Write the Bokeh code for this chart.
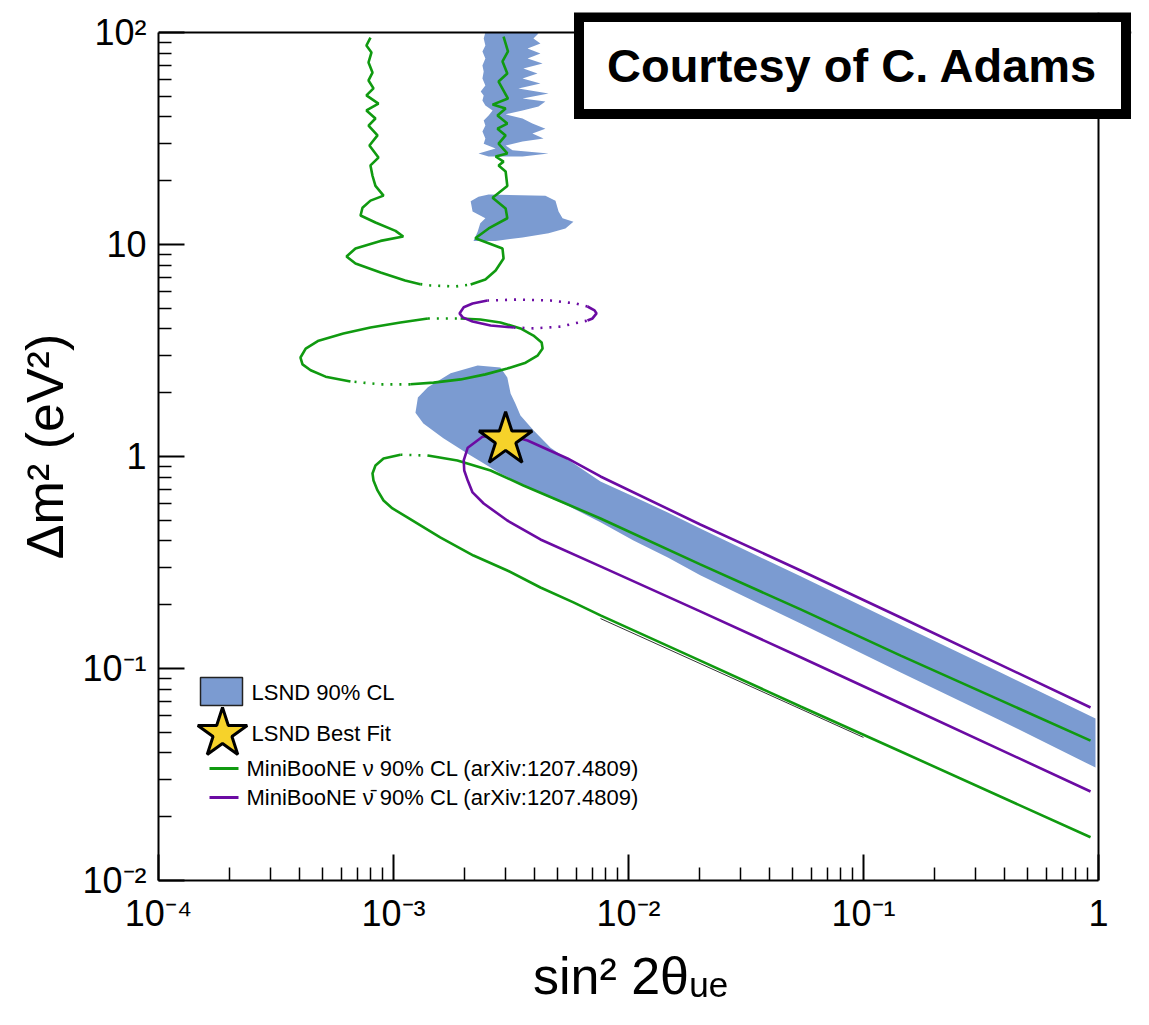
import math
from bokeh.plotting import figure
from bokeh.models import Range1d, FixedTicker, Label, BoxAnnotation, PolyAnnotation, Span
from bokeh.embed import file_html
from bokeh.resources import INLINE

FONT = "Liberation Sans"
BLUE = "#7b9bd1"
GREEN = "#109a10"
PURPLE = "#6b0ba3"
GOLD = "#f6d22a"

# ---------------- axis ticks ----------------
x_tick_values = [1e-4, 1e-3, 1e-2, 1e-1, 1.0]
x_tick_labels = ["10⁻⁴", "10⁻³", "10⁻²", "10⁻¹", "1"]
y_tick_values = [1e-2, 1e-1, 1.0, 10.0, 100.0]
y_tick_labels = ["10⁻²", "10⁻¹", "1", "10", "10²"]
x_title = "sin² 2θᵤₑ\u00a0\u00a0"
y_title = "Δm² (eV²)"

# ---------------- LSND 90% CL regions ----------------
lsnd_top_x = [2.46e-3, 2.42e-3, 2.46e-3, 2.39e-3, 2.46e-3, 2.39e-3, 2.42e-3, 2.39e-3, 2.46e-3, 2.35e-3,
              2.42e-3, 2.39e-3, 2.46e-3, 2.64e-3, 2.54e-3, 2.42e-3, 2.46e-3, 2.39e-3, 2.46e-3, 2.42e-3,
              2.72e-3, 2.30e-3, 2.54e-3,
              3.54e-3, 4.57e-3, 3.21e-3, 3.00e-3, 3.54e-3, 4.35e-3, 3.90e-3, 4.43e-3, 3.90e-3, 3.54e-3,
              3.00e-3, 3.54e-3, 4.14e-3, 4.43e-3, 3.54e-3, 4.57e-3, 3.40e-3, 4.22e-3, 3.54e-3, 4.10e-3,
              3.57e-3, 4.31e-3, 3.72e-3, 4.22e-3, 3.72e-3, 4.22e-3, 3.94e-3, 4.14e-3, 4.02e-3]
lsnd_top_y = [100.0, 93.7, 86.8, 81.4, 75.4, 69.9, 65.5, 60.7, 56.2, 52.7,
              50.5, 47.8, 45.3, 42.9, 40.6, 38.5, 36.4, 34.1, 31.6, 29.9,
              28.4, 26.9, 26.0,
              26.0, 26.9, 27.8, 29.3, 30.6, 31.6, 33.4, 35.2, 37.2, 39.3,
              41.1, 42.9, 44.8, 47.3, 48.8, 51.6, 54.5, 57.5, 60.7, 64.1,
              67.6, 71.4, 75.4, 79.6, 84.1, 88.7, 93.7, 98.9, 100.0]

lsnd_mid_x = [2.54e-3, 4.43e-3, 4.89e-3, 5.04e-3, 5.24e-3, 5.83e-3, 5.39e-3, 4.57e-3, 3.54e-3,
              2.72e-3, 2.19e-3, 2.28e-3, 2.34e-3, 2.46e-3, 2.17e-3, 2.13e-3, 2.30e-3]
lsnd_mid_y = [17.2, 17.0, 16.1, 14.3, 13.3, 12.8, 11.9, 11.3, 10.8,
              10.4, 10.4, 11.5, 12.6, 13.3, 14.3, 16.0, 16.8]

lsnd_band_x = [2.28e-3, 2.85e-3, 3.05e-3, 3.15e-3, 3.30e-3, 3.47e-3, 3.94e-3, 4.66e-3, 5.50e-3,
               7.60e-3, 1.05e-2, 1.47e-2, 2.02e-2, 5.40e-2, 0.144, 0.383, 0.971,
               0.971, 0.383, 0.144, 5.40e-2, 2.02e-2, 1.47e-2, 1.05e-2, 7.60e-3, 5.50e-3,
               3.94e-3, 2.85e-3, 2.07e-3, 1.63e-3, 1.34e-3, 1.24e-3, 1.27e-3, 1.40e-3, 1.75e-3]
lsnd_band_y = [2.69, 2.63, 2.36, 1.98, 1.78, 1.56, 1.33, 1.10, 0.97,
               0.762, 0.648, 0.544, 0.457, 0.272, 0.161, 0.0958, 0.0581,
               0.0341, 0.0569, 0.0958, 0.163, 0.275, 0.334, 0.402, 0.489, 0.587,
               0.692, 0.832, 1.03, 1.22, 1.43, 1.61, 1.90, 2.12, 2.47]

best_fit_x = [3.0e-3]
best_fit_y = [1.2]

# ---------------- MiniBooNE neutrino 90% CL (green) ----------------
nu_top_a_x = [7.98e-4, 7.67e-4, 8.06e-4, 7.83e-4, 8.14e-4, 7.83e-4, 8.22e-4, 7.67e-4, 8.63e-4, 7.67e-4,
              8.38e-4, 7.83e-4, 8.55e-4, 7.90e-4, 8.63e-4, 7.98e-4, 8.14e-4, 8.38e-4, 9.07e-4, 7.98e-4,
              7.38e-4, 7.24e-4, 8.38e-4, 1.02e-3, 1.10e-3, 8.81e-4, 6.89e-4, 6.31e-4, 6.89e-4, 8.81e-4,
              1.12e-3, 1.30e-3]
nu_top_a_y = [94.6, 86.8, 80.5, 72.2, 64.7, 59.4, 54.5, 50.5, 46.2, 42.9,
              39.3, 36.4, 32.7, 29.3, 25.7, 23.6, 21.1, 18.9, 17.0, 16.1,
              14.9, 13.7, 12.7, 11.6, 10.9, 10.4, 9.57, 8.78, 8.13, 7.38,
              6.76, 6.50]
nu_top_dot_x = [1.30e-3, 1.44e-3, 1.84e-3, 2.13e-3]
nu_top_dot_y = [6.50, 6.41, 6.34, 6.48]
nu_top_b_x = [2.13e-3, 2.46e-3, 2.72e-3, 2.94e-3, 2.91e-3, 2.23e-3, 2.54e-3, 3.05e-3, 3.00e-3, 2.64e-3,
              3.05e-3, 3.00e-3, 2.80e-3, 2.94e-3, 2.72e-3, 3.05e-3, 2.80e-3, 3.00e-3, 2.77e-3, 3.05e-3,
              2.77e-3, 3.00e-3, 2.64e-3, 3.07e-3, 2.80e-3, 3.05e-3, 2.91e-3, 3.07e-3, 2.94e-3]
nu_top_b_y = [6.48, 6.84, 7.54, 8.59, 9.57, 10.7, 11.9, 13.3, 14.8, 16.6,
              18.9, 22.1, 23.6, 24.6, 26.0, 26.9, 29.9, 32.7, 35.2, 37.2,
              40.6, 43.8, 45.7, 48.8, 58.7, 64.1, 73.0, 81.4, 95.7]

nu_mid_a_x = [1.93e-3, 2.34e-3, 2.85e-3, 3.47e-3, 3.94e-3, 4.27e-3, 4.31e-3, 4.10e-3, 3.65e-3,
              3.05e-3, 2.46e-3, 1.93e-3, 1.48e-3, 1.18e-3]
nu_mid_a_y = [4.48, 4.43, 4.29, 4.02, 3.72, 3.45, 3.23, 2.99, 2.77,
              2.60, 2.44, 2.31, 2.23, 2.19]
nu_mid_dot1_x = [1.18e-3, 8.81e-4, 6.56e-4]
nu_mid_dot1_y = [2.19, 2.19, 2.26]
nu_mid_b_x = [6.56e-4, 5.14e-4, 4.44e-4, 4.10e-4, 4.02e-4, 4.23e-4, 4.80e-4, 6.12e-4, 7.98e-4,
              1.07e-3, 1.40e-3]
nu_mid_b_y = [2.26, 2.38, 2.55, 2.72, 2.93, 3.23, 3.52, 3.80, 4.06,
              4.29, 4.48]
nu_mid_dot2_x = [1.40e-3, 1.93e-3]
nu_mid_dot2_y = [4.48, 4.48]

nu_low_dot_x = [1.07e-3, 1.40e-3]
nu_low_dot_y = [1.02, 1.01]
nu_low_upper_x = [1.40e-3, 1.87e-3, 2.59e-3, 3.57e-3, 5.04e-3, 7.60e-3, 2.02e-2, 5.40e-2, 0.144, 0.925]
nu_low_upper_y = [1.01, 0.958, 0.859, 0.730, 0.62, 0.510, 0.310, 0.190, 0.115, 0.0457]
nu_low_lower_x = [1.07e-3, 9.07e-4, 8.38e-4, 8.14e-4, 8.22e-4, 8.55e-4, 9.07e-4, 9.9e-4, 1.15e-3,
                  1.58e-3, 2.19e-3, 3.05e-3, 4.22e-3, 5.83e-3, 7.60e-3, 2.02e-2, 5.40e-2, 0.144, 0.925]
nu_low_lower_y = [1.02, 0.979, 0.907, 0.832, 0.77, 0.692, 0.62, 0.569, 0.515,
                  0.415, 0.341, 0.290, 0.241, 0.205, 0.178, 0.109, 0.0662, 0.0406, 0.0160]

extra_line_x = [7.6e-3, 0.1]
extra_line_y = [0.172, 0.0473]

# ---------------- MiniBooNE antineutrino 90% CL (purple) ----------------
nubar_ell_a_x = [2.51e-3, 2.17e-3, 1.99e-3, 1.91e-3, 1.97e-3, 2.17e-3, 2.59e-3, 3.24e-3]
nubar_ell_a_y = [5.44, 5.27, 5.06, 4.73, 4.53, 4.33, 4.15, 4.06]
nubar_ell_dot1_x = [3.24e-3, 3.94e-3, 5.14e-3, 6.69e-3]
nubar_ell_dot1_y = [4.06, 4.02, 4.10, 4.38]
nubar_ell_b_x = [6.69e-3, 7.03e-3, 7.31e-3, 7.17e-3, 6.69e-3]
nubar_ell_b_y = [4.38, 4.48, 4.73, 4.89, 5.10]
nubar_ell_dot2_x = [6.69e-3, 5.94e-3, 4.66e-3, 3.37e-3, 2.51e-3]
nubar_ell_dot2_y = [5.10, 5.27, 5.44, 5.50, 5.44]

nubar_low_x = [0.925, 0.144, 5.40e-2, 2.02e-2, 7.60e-3, 5.50e-3, 3.72e-3, 3.0e-3, 2.39e-3, 2.07e-3,
               1.99e-3, 2.00e-3, 2.07e-3, 2.17e-3, 2.42e-3, 3.05e-3, 4.22e-3, 7.60e-3, 2.02e-2,
               5.40e-2, 0.144, 0.925]
nubar_low_y = [0.0655, 0.174, 0.290, 0.478, 0.805, 0.979, 1.19, 1.27, 1.24, 1.10,
               0.958, 0.859, 0.77, 0.677, 0.600, 0.499, 0.406, 0.303, 0.186,
               0.113, 0.0684, 0.0263]

legend_labels = ["LSND 90% CL", "LSND Best Fit",
                 "MiniBooNE ν 90% CL (arXiv:1207.4809)",
                 "MiniBooNE ν̄ 90% CL (arXiv:1207.4809)"]

# ---------------- figure ----------------
FL, FB = 158, 880  # frame left / bottom in page pixels (for screen-unit annotations)


def sx(px):
    return px - FL


def sy(py):
    return FB - py


# frame spans page x 158..1131, y 12..880 so that the courtesy box fits inside it;
# the axes themselves run from 1e-4..1 and 1e-2..1e2 (page x 158..1098, y 32..880)
X_END = 10 ** (33 / 235)
Y_END = 100 * 10 ** (20 / 212)

p = figure(width=1149, height=1025, x_axis_type="log", y_axis_type="log",
           x_range=Range1d(1e-4, X_END), y_range=Range1d(1e-2, Y_END),
           output_backend="svg", toolbar_location=None,
           min_border_left=158, min_border_right=18, min_border_top=12, min_border_bottom=145)
p.background_fill_color = "white"
p.border_fill_color = "white"
p.outline_line_color = None
p.xgrid.visible = False
p.ygrid.visible = False

x_minor = [m * 10.0 ** e for e in range(-4, 0) for m in range(2, 10)]
y_minor = [m * 10.0 ** e for e in range(-2, 2) for m in range(2, 10)]
p.xaxis.ticker = FixedTicker(ticks=x_tick_values, minor_ticks=x_minor)
p.yaxis.ticker = FixedTicker(ticks=y_tick_values, minor_ticks=y_minor)
p.xaxis.major_label_overrides = dict(zip(x_tick_values, x_tick_labels))
p.yaxis.major_label_overrides = dict(zip(y_tick_values, y_tick_labels))
p.xaxis.bounds = (1e-4, 1.0)
p.yaxis.bounds = (1e-2, 1e2)

for ax in (p.xaxis[0], p.yaxis[0]):
    ax.axis_line_width = 2
    ax.axis_line_color = "black"
    ax.major_tick_line_width = 2
    ax.minor_tick_line_width = 1.5
    ax.major_tick_in = 26
    ax.major_tick_out = 0
    ax.minor_tick_in = 13
    ax.minor_tick_out = 0
    ax.major_label_text_font = FONT
    ax.major_label_text_font_size = "36px"
    ax.major_label_text_color = "black"
    ax.major_label_standoff = 12
    ax.axis_label_text_font = FONT
    ax.axis_label_text_font_size = "52px"
    ax.axis_label_text_font_style = "normal"
    ax.axis_label_text_color = "black"

p.xaxis.axis_label = x_title
p.xaxis.axis_label_standoff = 10
p.yaxis.axis_label = y_title
p.yaxis.axis_label_standoff = 5

# top and right frame lines at the axis ends
p.add_layout(Span(location=100.0, dimension="width", line_color="black", line_width=2))
p.add_layout(Span(location=1.0, dimension="height", line_color="black", line_width=2))

# LSND regions
p.patch(lsnd_top_x, lsnd_top_y, fill_color=BLUE, line_color=None)
p.patch(lsnd_mid_x, lsnd_mid_y, fill_color=BLUE, line_color=None)
p.patch(lsnd_band_x, lsnd_band_y, fill_color=BLUE, line_color=None)

p.line(extra_line_x, extra_line_y, line_color="#333333", line_width=1)

LW = 2.6
DASH = "2 7"
# green
p.line(nu_top_a_x, nu_top_a_y, line_color=GREEN, line_width=LW)
p.line(nu_top_dot_x, nu_top_dot_y, line_color=GREEN, line_width=LW, line_dash=DASH)
p.line(nu_top_b_x, nu_top_b_y, line_color=GREEN, line_width=LW)
p.line(nu_mid_a_x, nu_mid_a_y, line_color=GREEN, line_width=LW)
p.line(nu_mid_dot1_x, nu_mid_dot1_y, line_color=GREEN, line_width=LW, line_dash=DASH)
p.line(nu_mid_b_x, nu_mid_b_y, line_color=GREEN, line_width=LW)
p.line(nu_mid_dot2_x, nu_mid_dot2_y, line_color=GREEN, line_width=LW, line_dash=DASH)
p.line(nu_low_dot_x, nu_low_dot_y, line_color=GREEN, line_width=LW, line_dash=DASH)
p.line(nu_low_upper_x, nu_low_upper_y, line_color=GREEN, line_width=LW)
p.line(nu_low_lower_x, nu_low_lower_y, line_color=GREEN, line_width=LW)
# purple
p.line(nubar_ell_a_x, nubar_ell_a_y, line_color=PURPLE, line_width=LW)
p.line(nubar_ell_dot1_x, nubar_ell_dot1_y, line_color=PURPLE, line_width=LW, line_dash=DASH)
p.line(nubar_ell_b_x, nubar_ell_b_y, line_color=PURPLE, line_width=LW)
p.line(nubar_ell_dot2_x, nubar_ell_dot2_y, line_color=PURPLE, line_width=LW, line_dash=DASH)
p.line(nubar_low_x, nubar_low_y, line_color=PURPLE, line_width=LW)

# best fit star
p.scatter(best_fit_x, best_fit_y, marker="star", size=56, fill_color=GOLD,
          line_color="black", line_width=3)

# ---------------- legend (manual, screen units) ----------------
p.add_layout(BoxAnnotation(left=sx(200), right=sx(242), bottom=sy(705), top=sy(677),
                           left_units="screen", right_units="screen",
                           bottom_units="screen", top_units="screen",
                           fill_color=BLUE, fill_alpha=1.0,
                           line_color="#222222", line_alpha=1.0, line_width=1.5))
star_cx, star_cy, star_R = sx(222), sy(733), 26
star_xs, star_ys = [], []
for k in range(10):
    ang = math.pi / 2 + k * math.pi / 5
    rad = star_R if k % 2 == 0 else star_R * 0.382
    star_xs.append(star_cx + rad * math.cos(ang))
    star_ys.append(star_cy + rad * math.sin(ang))
p.add_layout(PolyAnnotation(xs=star_xs, ys=star_ys, xs_units="screen", ys_units="screen",
                            fill_color=GOLD, fill_alpha=1.0,
                            line_color="black", line_alpha=1.0, line_width=3))
for col, yy in ((GREEN, 768), (PURPLE, 797)):
    p.add_layout(BoxAnnotation(left=sx(209), right=sx(238), bottom=sy(yy + 1.5), top=sy(yy - 1.5),
                               left_units="screen", right_units="screen",
                               bottom_units="screen", top_units="screen",
                               fill_color=col, fill_alpha=1.0, line_color=None))
for txt, xx, yy in zip(legend_labels, (251, 251, 246, 246), (692, 733, 768, 797)):
    p.add_layout(Label(x=sx(xx), y=sy(yy), x_units="screen", y_units="screen", text=txt,
                       text_font=FONT, text_font_size="22px", text_align="left",
                       text_baseline="middle", text_color="black"))

# ---------------- courtesy box ----------------
p.add_layout(Label(x=sx(852), y=sy(65), x_units="screen", y_units="screen",
                   text="Courtesy of C. Adams", text_font=FONT, text_font_style="bold",
                   text_font_size="47px", text_align="center", text_baseline="middle",
                   text_color="black", background_fill_color="white",
                   border_line_color="black", border_line_width=10, border_line_join="miter",
                   padding=dict(left=28, right=28, top=22, bottom=22)))

open("out.html", "w").write(file_html(p, INLINE))
